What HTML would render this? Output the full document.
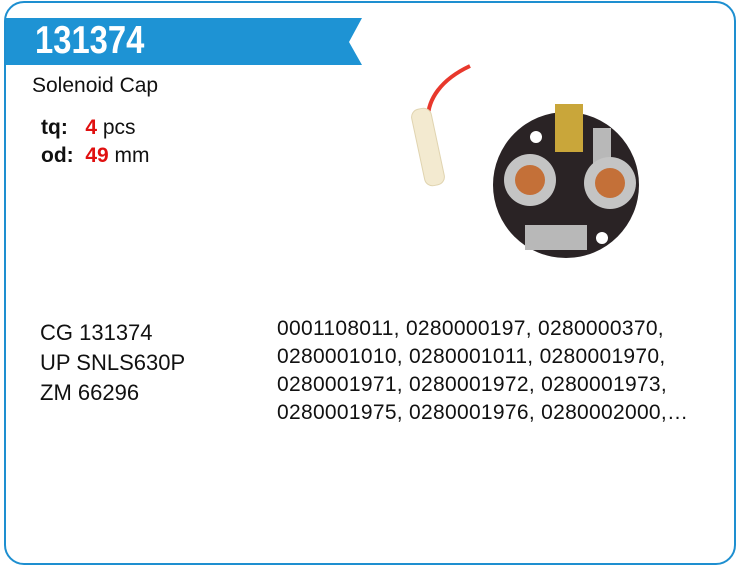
<!DOCTYPE html>
<html><head><meta charset="utf-8"><style>
body{margin:0;width:740px;height:576px;background:#fff;position:relative;overflow:hidden;font-family:"Liberation Sans",Arial,sans-serif;color:#111}
.frame{position:absolute;left:4px;top:1px;width:728px;height:560px;border:2.5px solid #1e8fd0;border-radius:20px}
.t{position:absolute;white-space:nowrap}
</style></head><body>
<div class="frame"></div>
<svg class="t" style="left:0;top:0" width="740" height="576">
<polygon points="6,18 362,18 349,42 362,65 6,65" fill="#1e93d4"/>
<path d="M428,118 C428,100 440,80 470,66" stroke="#e8382c" stroke-width="4" fill="none"/>
<rect x="418" y="108" width="20" height="78" rx="8" fill="#f3ead0" stroke="#e0d4b0" transform="rotate(-12 428 147)"/>
<circle cx="566" cy="185" r="73" fill="#2a2325"/>
<rect x="555" y="104" width="28" height="48" fill="#c9a63a"/>
<rect x="593" y="128" width="18" height="48" fill="#b8b8b8"/>
<circle cx="530" cy="180" r="26" fill="#c4c4c4"/><circle cx="530" cy="180" r="15" fill="#c47038"/>
<circle cx="610" cy="183" r="26" fill="#c4c4c4"/><circle cx="610" cy="183" r="15" fill="#c47038"/>
<rect x="525" y="225" width="62" height="25" fill="#b8b8b8"/>
<circle cx="536" cy="137" r="6" fill="#fff"/><circle cx="602" cy="238" r="6" fill="#fff"/>
</svg>
<div class="t" style="left:35px;top:19px;font-size:39px;font-weight:bold;color:#fff;transform:scaleX(.84);transform-origin:left top;line-height:44px">131374</div>
<div class="t" style="left:32px;top:74px;font-size:21px">Solenoid Cap</div>
<div class="t" style="left:41px;top:114px;font-size:21px;line-height:28px"><b>tq:</b>&nbsp;&nbsp;&nbsp;<b style="color:#e01010">4</b> pcs<br><b>od:</b>&nbsp;&nbsp;<b style="color:#e01010">49</b> mm</div>
<div class="t" style="left:40px;top:318px;font-size:22px;line-height:30px">CG 131374<br>UP SNLS630P<br>ZM 66296</div>
<div class="t" style="left:277px;top:315px;font-size:21px;line-height:28px;letter-spacing:0.3px">0001108011, 0280000197, 0280000370,<br>0280001010, 0280001011, 0280001970,<br>0280001971, 0280001972, 0280001973,<br>0280001975, 0280001976, 0280002000,…</div>
</body></html>
